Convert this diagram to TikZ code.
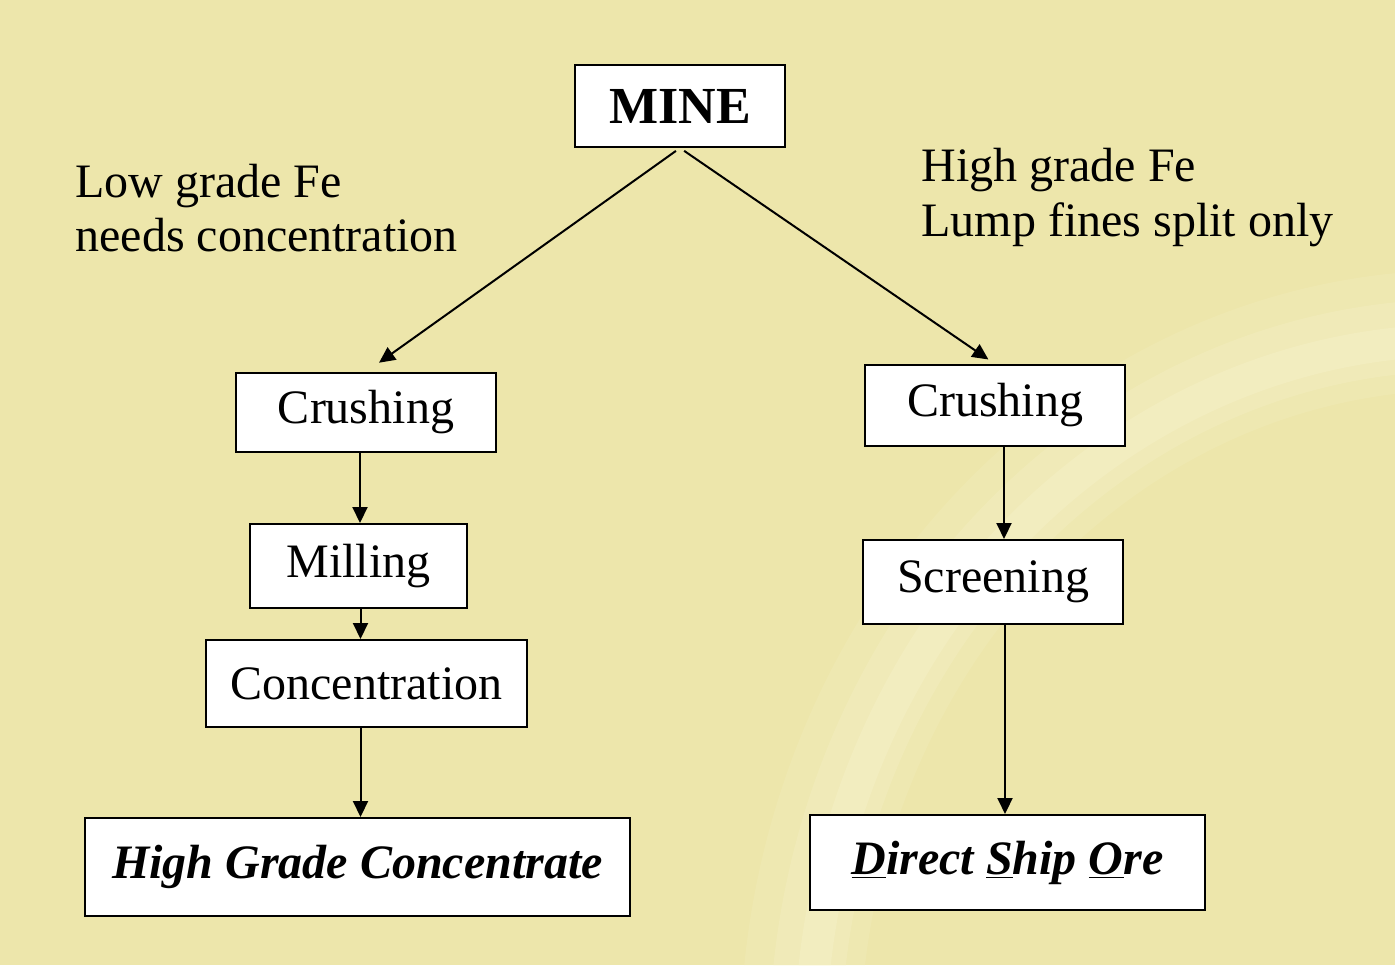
\documentclass[tikz,border=0pt]{standalone}
\usepackage{fontspec}
\setmainfont{Liberation Serif}
\usetikzlibrary{arrows.meta,calc}
\definecolor{bgkhaki}{RGB}{237,230,171}
\definecolor{glow}{RGB}{250,246,212}
\begin{document}
\begin{tikzpicture}[x=0.5pt,y=-0.5pt,
  box/.style={draw=black,line width=1pt,fill=white,inner sep=0pt,font=\fontsize{24}{28}\selectfont},
  arr/.style={line width=1pt,-{Triangle[length=8pt,width=7.5pt]}},
  lbl/.style={anchor=base west,inner sep=0pt,font=\fontsize{24}{28}\selectfont}]
\fill[bgkhaki] (0,0) rectangle (1395,965);
\useasboundingbox (0,0) rectangle (1395,965);
% faint background arc
\begin{scope}
\clip (0,0) rectangle (1395,965);
\draw[glow,opacity=0.15,line width=60pt] (800,1050) arc[start angle=180,end angle=275,x radius=660,y radius=720];
\draw[glow,opacity=0.2,line width=36pt] (805,1050) arc[start angle=180,end angle=275,x radius=655,y radius=715];
\draw[glow,opacity=0.25,line width=16pt] (810,1050) arc[start angle=180,end angle=272,x radius=650,y radius=710];
\end{scope}
% nodes
\node[box,minimum width=105pt,minimum height=41pt,font=\fontsize{26}{30}\selectfont\bfseries] (mine) at (680,106) {MINE};
\node[box,minimum width=130pt,minimum height=39.5pt] (crushL) at (366,412.5) {Crushing};
\node[box,minimum width=108.5pt,minimum height=42pt] (mill) at (358.5,566) {Milling};
\node[box,minimum width=160.5pt,minimum height=43.5pt] (conc) at (366.5,683.5) {Concentration};
\node[box,minimum width=272.5pt,minimum height=49pt,font=\fontsize{24}{28}\selectfont\bfseries\itshape] (hgc) at (357.5,867) {High Grade Concentrate};
\node[box,minimum width=130pt,minimum height=40.5pt] (crushR) at (995,405.5) {Crushing};
\node[box,minimum width=130pt,minimum height=42pt] (screen) at (993,582) {Screening};
\node[box,minimum width=197.5pt,minimum height=47.5pt,font=\fontsize{24}{28}\selectfont\bfseries\itshape] (dso) at (1007.5,862.5) {\underline{D}irect \underline{S}hip \underline{O}re};
% labels
\node[lbl] (lowA) at (75,197) {Low grade Fe};
\node[lbl] (lowB) at (75,251) {needs concentration};
\node[lbl] (highA) at (921,181) {High grade Fe};
\node[lbl] (highB) at (921,236) {Lump fines split only};
% connectors
\draw[arr,shorten <=2.5pt,shorten >=8pt] (mine.south) -- (crushL.north);
\draw[arr,shorten <=2.5pt,shorten >=4pt] (mine.south) -- (crushR.north);
\draw[arr] ([xshift=-3pt]crushL.south) -- ([xshift=-3pt]crushL.south |- mill.north);
\draw[arr] ([xshift=1pt]mill.south) -- ([xshift=1pt]mill.south |- conc.north);
\draw[arr] ([xshift=-3pt]conc.south) -- ([xshift=-3pt]conc.south |- hgc.north);
\draw[arr] ([xshift=4.5pt]crushR.south) -- ([xshift=4.5pt]crushR.south |- screen.north);
\draw[arr] ([xshift=6pt]screen.south) -- ([xshift=6pt]screen.south |- dso.north);
\end{tikzpicture}
\end{document}
